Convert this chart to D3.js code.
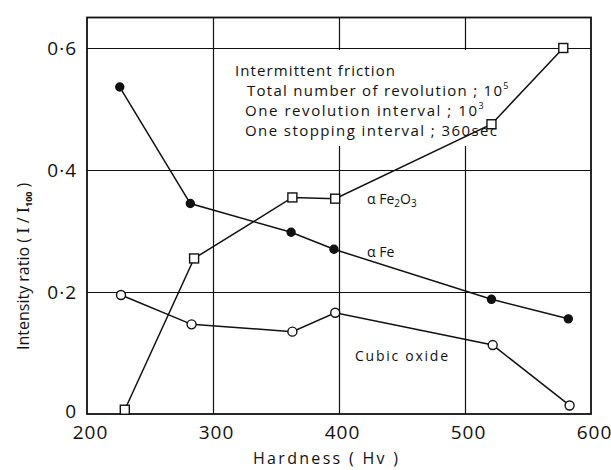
<!DOCTYPE html>
<html>
<head>
<meta charset="utf-8">
<script src="https://cdn.jsdelivr.net/npm/d3@7"></script>
<style>
  body { margin: 0; background: #fff; }
  svg { font-family: "Open Sans", "DejaVu Sans", sans-serif; }
  .axis .domain { display: none; }
  .grid line { stroke: #111; stroke-width: 1.2; }
</style>
</head>
<body>
<svg id="chart" width="611" height="470"></svg>
<script>
// data
var xTicks = [200, 300, 400, 500, 600];
var yTicks = [0, 0.2, 0.4, 0.6];
var yTickLabels = ["0", "0·2", "0·4", "0·6"];

var alphaFeHv = [226, 282, 362, 396, 521, 582];
var alphaFe = [0.536, 0.345, 0.298, 0.270, 0.188, 0.156];

var fe2o3Hv = [230, 285, 363, 397, 521, 578];
var fe2o3 = [0.007, 0.255, 0.355, 0.353, 0.475, 0.600];

var cubicHv = [227, 283, 363, 397, 522, 583];
var cubic = [0.195, 0.147, 0.135, 0.166, 0.113, 0.014];

var noteLines = [
  { text: "Intermittent friction", sup: "", dx: 0 },
  { text: "Total number of revolution ; 10", sup: "5", dx: 12 },
  { text: "One revolution interval ; 10", sup: "3", dx: 10 },
  { text: "One stopping interval ; 360sec", sup: "", dx: 10 }
];

var svg = d3.select("#chart");
var x = d3.scaleLinear().domain([200, 600]).range([87, 591]);
var y = d3.scaleLinear().domain([0, 0.6]).range([414, 48]);
var plotTop = y(0.65), plotBottom = y(0), plotLeft = x(200), plotRight = x(600);

// grid
svg.append("g").attr("class", "grid")
  .attr("transform", "translate(0," + plotBottom + ")")
  .call(d3.axisBottom(x).tickValues([300, 400, 500]).tickSize(-(plotBottom - plotTop)).tickFormat(""))
  .call(function (g) { g.select(".domain").remove(); });
svg.append("g").attr("class", "grid")
  .attr("transform", "translate(" + plotLeft + ",0)")
  .call(d3.axisLeft(y).tickValues([0.2, 0.4, 0.6]).tickSize(-(plotRight - plotLeft)).tickFormat(""))
  .call(function (g) { g.select(".domain").remove(); });

// blank area behind the note
svg.append("rect").attr("x", 228).attr("y", 50).attr("width", 288).attr("height", 96).attr("fill", "#fff");

// frame
svg.append("rect").attr("x", plotLeft).attr("y", plotTop)
  .attr("width", plotRight - plotLeft).attr("height", plotBottom - plotTop)
  .attr("fill", "none").attr("stroke", "#111").attr("stroke-width", 1.8);

// axes labels
var xAxis = svg.append("g").attr("class", "axis")
  .attr("transform", "translate(0," + plotBottom + ")")
  .call(d3.axisBottom(x).tickValues(xTicks).tickSize(0).tickPadding(12));
xAxis.selectAll("text").attr("font-size", 19).attr("letter-spacing", 1).attr("dx", 3)
  .attr("fill", "#111").attr("font-family", "Open Sans, sans-serif");

var yAxis = svg.append("g").attr("class", "axis")
  .attr("transform", "translate(" + plotLeft + ",0)")
  .call(d3.axisLeft(y).tickValues(yTicks).tickSize(0).tickPadding(10)
    .tickFormat(function (d, i) { return yTickLabels[i]; }));
yAxis.selectAll("text").attr("font-size", 19).attr("letter-spacing", 1)
  .attr("fill", "#111").attr("font-family", "Open Sans, sans-serif")
  .attr("dy", function (d) { return d === 0 ? "0.2em" : "0.32em"; });

// lines
function series(hv, vals) { return hv.map(function (h, i) { return [h, vals[i]]; }); }
var line = d3.line().x(function (d) { return x(d[0]); }).y(function (d) { return y(d[1]); });

var sets = [
  { data: series(alphaFeHv, alphaFe), mark: "dot" },
  { data: series(fe2o3Hv, fe2o3), mark: "square" },
  { data: series(cubicHv, cubic), mark: "circle" }
];

sets.forEach(function (s) {
  svg.append("path").attr("d", line(s.data)).attr("fill", "none").attr("stroke", "#111").attr("stroke-width", 1.5);
});

sets.forEach(function (s) {
  var g = svg.append("g");
  if (s.mark === "square") {
    g.selectAll("rect").data(s.data).join("rect")
      .attr("x", function (d) { return x(d[0]) - 4.5; })
      .attr("y", function (d) { return y(d[1]) - 4.5; })
      .attr("width", 9).attr("height", 9)
      .attr("fill", "#fff").attr("stroke", "#111").attr("stroke-width", 1.4);
  } else {
    g.selectAll("circle").data(s.data).join("circle")
      .attr("cx", function (d) { return x(d[0]); })
      .attr("cy", function (d) { return y(d[1]); })
      .attr("r", s.mark === "dot" ? 4 : 4.5)
      .attr("fill", s.mark === "dot" ? "#111" : "#fff")
      .attr("stroke", "#111").attr("stroke-width", 1.4);
  }
});

// note
var note = svg.append("g").attr("font-size", 15).attr("fill", "#111");
var noteY = [76, 96, 116, 136];
var noteW = [160, 263, 240, 252];
noteLines.forEach(function (l, i) {
  var t = note.append("text").attr("x", 235 + l.dx).attr("y", noteY[i]);
  if (l.sup) {
    t.append("tspan").text(l.text).attr("textLength", noteW[i] - 8).attr("lengthAdjust", "spacing");
    t.append("tspan").text(l.sup).attr("font-size", 9).attr("dy", -7);
  } else {
    t.text(l.text).attr("textLength", noteW[i]).attr("lengthAdjust", "spacing");
  }
});

// series labels
var lab = svg.append("g").attr("font-size", 14).attr("fill", "#111");
var t1 = lab.append("text").attr("x", 367).attr("y", 204);
t1.append("tspan").text("α Fe");
t1.append("tspan").text("2").attr("font-size", 10).attr("dy", 3);
t1.append("tspan").text("O").attr("dy", -3);
t1.append("tspan").text("3").attr("font-size", 10).attr("dy", 3);
lab.append("text").attr("x", 367).attr("y", 257).text("α Fe");
lab.append("text").attr("x", 355).attr("y", 361).text("Cubic oxide")
  .attr("textLength", 93).attr("lengthAdjust", "spacing");

// axis titles
svg.append("text").attr("x", 253).attr("y", 464).attr("font-size", 16).attr("fill", "#111")
  .text("Hardness  ( Hv )").attr("textLength", 145).attr("lengthAdjust", "spacing");

var yt = svg.append("text").attr("transform", "translate(29,350) rotate(-90)")
  .attr("font-size", 16).attr("fill", "#111");
yt.append("tspan").text("Intensity  ratio  ( ");
yt.append("tspan").text("I").attr("font-family", "DejaVu Serif, serif");
yt.append("tspan").text(" / ");
yt.append("tspan").text("I").attr("font-family", "DejaVu Serif, serif");
yt.append("tspan").text("100").attr("font-size", 9).attr("font-weight", "bold").attr("dy", 3);
yt.append("tspan").text(" )").attr("dy", -3);
</script>
</body>
</html>
